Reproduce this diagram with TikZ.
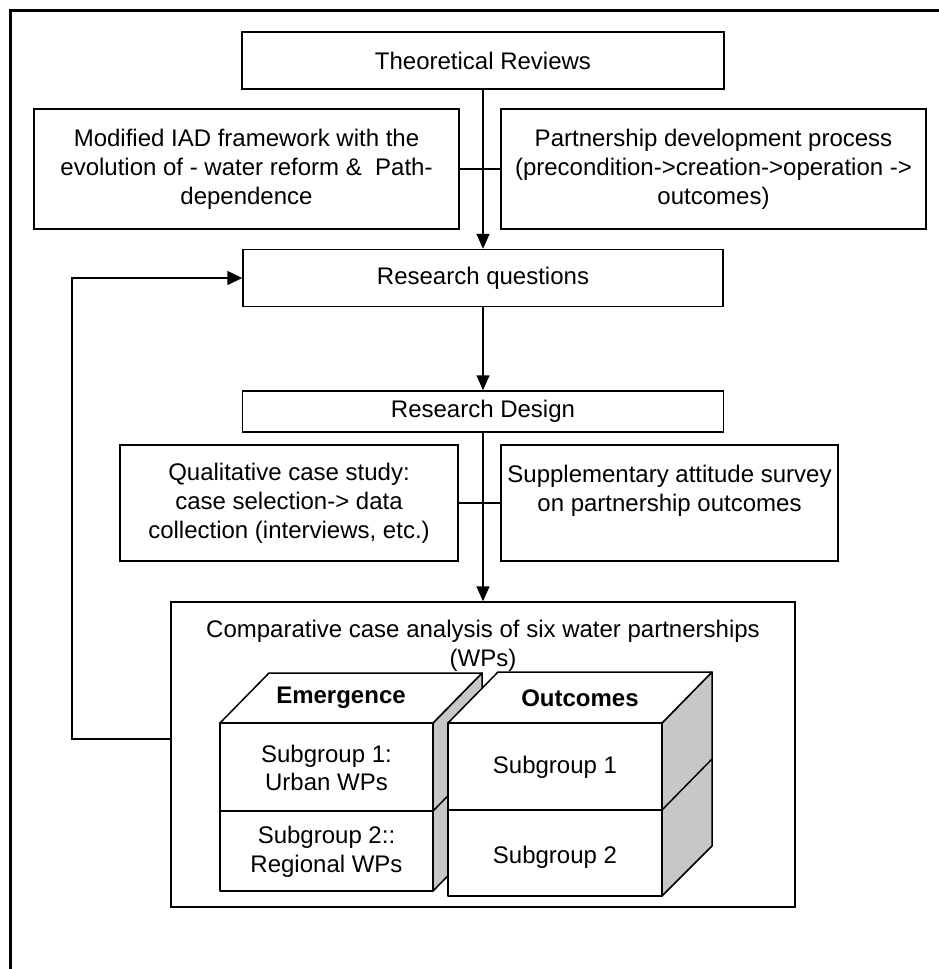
\documentclass[tikz,border=0pt]{standalone}
\usepackage{fontspec}
\setmainfont{Liberation Sans}
\usetikzlibrary{arrows.meta}
\begin{document}
\begin{tikzpicture}[x=1pt,y=-1pt,
  box/.style={draw=black, line width=1.5pt, fill=white, align=center, inner sep=0pt,
    font=\fontsize{24}{28.8}\selectfont},
  txt/.style={align=center, inner sep=0pt, font=\fontsize{24}{28.8}\selectfont},
  link/.style={draw=black, line width=1.5pt},
  arr/.style={link, -{Triangle[length=15pt,width=13pt]}},
  frame/.style={draw=black, line width=3pt},
  face/.style={draw=black, line width=1.5pt, fill=white, line join=round},
  side/.style={draw=black, line width=1.5pt, fill=black!22, line join=round}]
\useasboundingbox (0,0) rectangle (939,969);
\fill[white] (0,0) rectangle (939,969);

% outer frame (open at right and bottom)
\draw[frame] (10,969) -- (10,10) -- (939,10);

% top stage: theory
\node[box, minimum width=482pt, minimum height=57pt] (tr) at (483,60.5) {Theoretical Reviews};
\node[box, minimum width=425pt, minimum height=120pt] (iad) at (246.5,169)
  {Modified IAD framework with the\\evolution of - water reform \&\ \ Path-\\dependence};
\node[box, minimum width=425pt, minimum height=120pt] (pdp) at (713.5,169)
  {Partnership development process\\(precondition->creation->operation ->\\outcomes)};
\node[box, minimum width=480pt, minimum height=57pt] (rq) at (483,278) {Research questions};

% middle stage: design
\node[box, minimum width=481pt, minimum height=41pt] (rd) at (483,411.5) {Research Design};
\node[box, minimum width=338pt, minimum height=116pt] (qual) at (289,503)
  {Qualitative case study:\\case selection-> data\\collection (interviews, etc.)};
\node[box, minimum width=337pt, minimum height=116pt] (supp) at (669.5,503)
  {Supplementary attitude survey\\on partnership outcomes\\\phantom{X}};

% bottom stage: comparative analysis
\node[box, minimum width=624pt, minimum height=305pt] (comp) at (483,754.5) {};
\node[txt] (comptitle) at (483,646)
  {Comparative case analysis of six water partnerships\\(WPs)};

% connectors
\draw[link] (iad.east) -- (pdp.west);
\draw[arr] (tr.south) -- (rq.north);
\draw[arr] (rq.south) -- (rd.north);
\draw[link] (qual.east) -- (supp.west);
\draw[arr] (rd.south) -- (comp.north);

% feedback loop back to the research questions
\coordinate (fbbot) at (72,739);
\coordinate (fbtop) at (72,278);
\draw[arr, -{Triangle[length=15pt,width=14pt]}] (comp.west |- fbbot) -- (fbbot) -- (fbtop) -- (rq.west);

% block: Emergence
\draw[side] (433,723) -- (482,673) -- (482,841) -- (433,891) -- cycle;
\draw[link] (433,811) -- (482,761);
\draw[face] (220,723) -- (433,723) -- (482,673) -- (269,673) -- cycle;
\draw[face] (220,723) rectangle (433,891);
\draw[link] (220,811) -- (433,811);
\node[txt, font=\fontsize{24}{28.8}\selectfont\bfseries] (emtitle) at (341,698) {Emergence};
\node[txt] (em1) at (326.5,768) {Subgroup 1:\\Urban WPs};
\node[txt] (em2) at (326.5,852) {Subgroup 2::\\Regional WPs};

% block: Outcomes
\draw[side] (662,723) -- (712,672) -- (712,846) -- (662,896) -- cycle;
\draw[link] (662,810) -- (712,759);
\draw[face] (448,723) -- (662,723) -- (712,672) -- (498,672) -- cycle;
\draw[face] (448,723) rectangle (662,896);
\draw[link] (448,810) -- (662,810);
\node[txt, font=\fontsize{24}{28.8}\selectfont\bfseries] (outtitle) at (580,698) {Outcomes};
\node[txt] (out1) at (555,767) {Subgroup 1};
\node[txt] (out2) at (555,857) {Subgroup 2};
\end{tikzpicture}
\end{document}
